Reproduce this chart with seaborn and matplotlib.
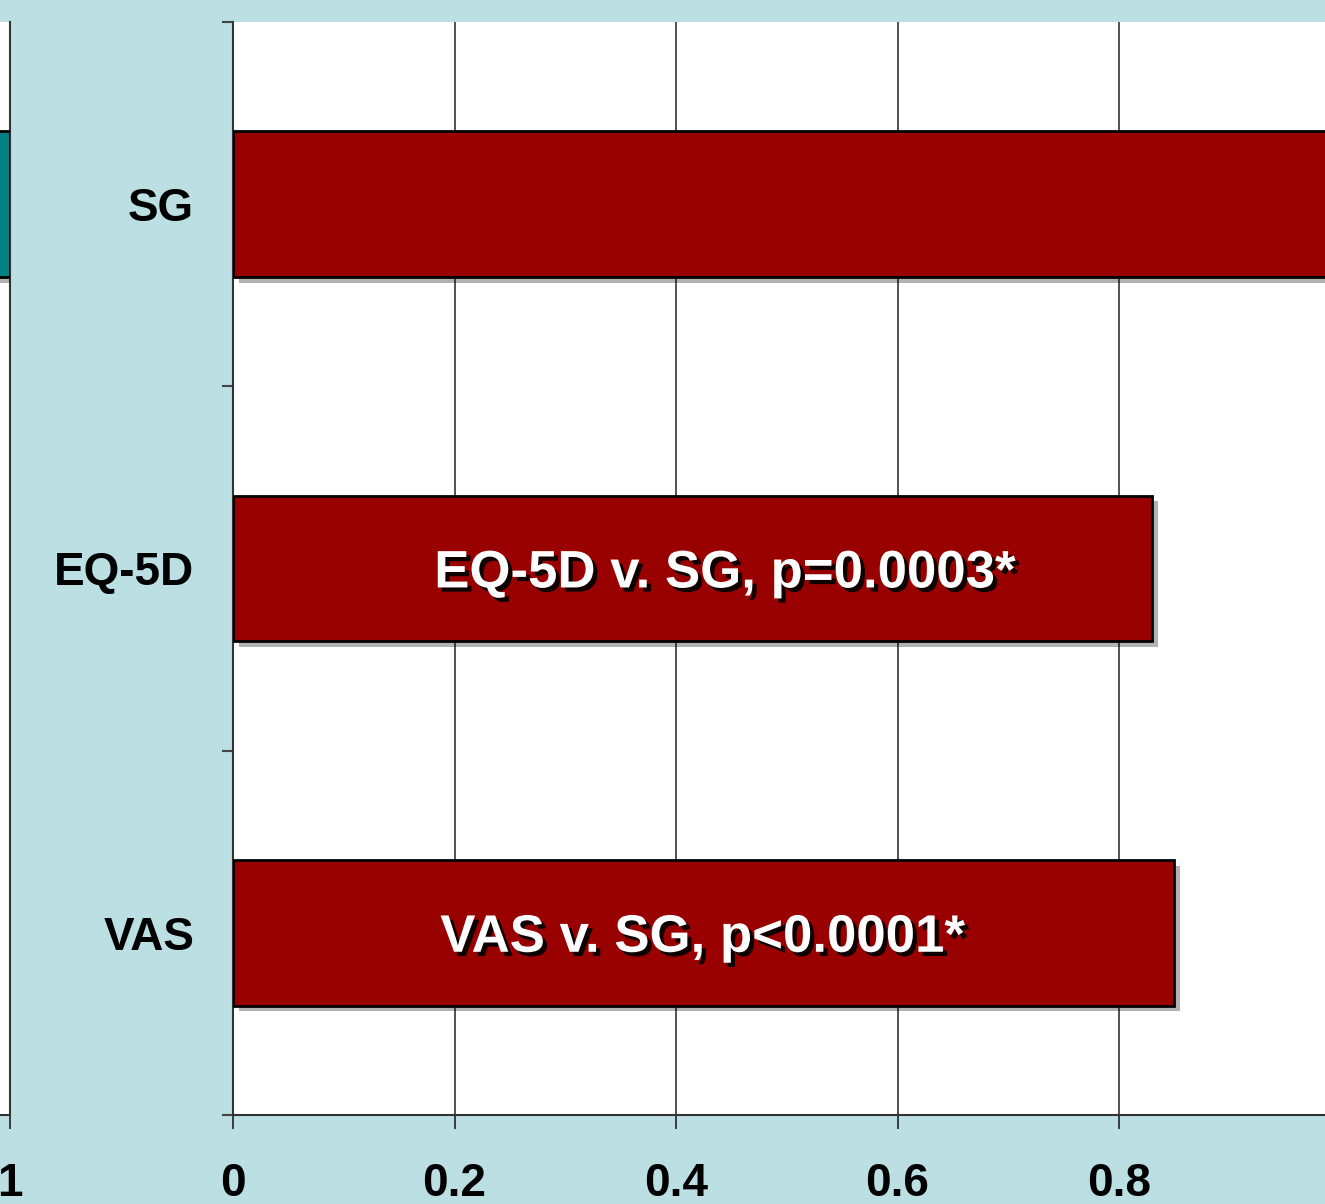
import numpy as np
import matplotlib
matplotlib.use("Agg")
import matplotlib.pyplot as plt
import matplotlib.patheffects as pe
import pandas as pd
import seaborn as sns

# values
methods = ["SG", "EQ-5D", "VAS"]
scores = [1.0, 0.83, 0.85]
notes = ["", "EQ-5D v. SG, p=0.0003*", "VAS v. SG, p<0.0001*"]
note_x = [None, 0.444, 0.424]
xticks = [0, 0.2, 0.4, 0.6, 0.8]
left_methods = ["SG", "EQ-5D", "VAS"]
left_scores = [1.0, 0.0, 0.0]

bg = "#BBDFE2"
bar_red = "#990000"
teal = "#008080"

sns.set_style("white")
plt.rcParams["font.family"] = ["Liberation Sans", "DejaVu Sans"]
plt.rcParams["font.weight"] = "bold"

W, H = 1325, 1204
fig = plt.figure(figsize=(W / 100, H / 100), dpi=100, facecolor=bg)

bar_shadow = [pe.withSimplePatchShadow(offset=(4, -4), shadow_rgbFace="k", alpha=0.3)]

# main panel
ax = fig.add_axes([233 / W, (H - 1115) / H, 1 - 233 / W, (1115 - 22) / H])
df = pd.DataFrame({"method": methods, "score": scores})
sns.barplot(data=df, y="method", x="score", color=bar_red, width=0.4,
            edgecolor="black", linewidth=2, saturation=1, ax=ax, zorder=3)
for p in ax.patches:
    p.set_path_effects(bar_shadow)

ax.set_xlim(0, (1325 - 233) / (1119 - 233) * 0.8)
ax.set_ylim(2.5, -0.5)
ax.set_xticks(xticks)
ax.set_xticklabels([f"{t:g}" for t in xticks], fontsize=33, fontweight="bold", color="black")
ax.set_yticks(range(len(methods)))
ax.set_yticklabels(methods, fontsize=33, fontweight="bold", color="black")
ax.set_yticks(np.arange(-0.5, len(methods)), minor=True)
ax.tick_params(axis="y", which="major", left=True, length=0, pad=28)
ax.tick_params(axis="y", which="minor", left=True, length=8, width=1.5, color="#444444")
ax.tick_params(axis="x", which="major", bottom=True, length=10, width=1.2, color="#222222", pad=24)
ax.set_xlabel("")
ax.set_ylabel("")
ax.grid(axis="x", color="#333333", linewidth=1.2, zorder=0)
ax.set_axisbelow(True)
ax.set_facecolor("white")
for side in ["top", "right"]:
    ax.spines[side].set_visible(False)
for side in ["left", "bottom"]:
    ax.spines[side].set_color("#333333")
    ax.spines[side].set_linewidth(1.5)

for i, (x, note) in enumerate(zip(note_x, notes)):
    if note:
        ax.text(x, i + 0.052, note, ha="center", va="baseline", color="white",
                fontsize=38, fontweight="bold", zorder=5,
                path_effects=[pe.withSimplePatchShadow(offset=(3, -3), shadow_rgbFace="k", alpha=0.9)])

# right edge of the neighbouring panel
ax2 = fig.add_axes([-200 / W, (H - 1115) / H, 210 / W, (1115 - 22) / H])
df2 = pd.DataFrame({"method": left_methods, "score": left_scores})
sns.barplot(data=df2, y="method", x="score", color=teal, width=0.4,
            edgecolor="black", linewidth=2, saturation=1, ax=ax2, zorder=3)
for p in ax2.patches:
    p.set_path_effects(bar_shadow)
ax2.set_xlim(0.8, 1.0)
ax2.set_ylim(2.5, -0.5)
ax2.set_xticks([1.0])
ax2.set_xticklabels(["1"], fontsize=33, fontweight="bold", color="black")
ax2.set_yticks([])
ax2.tick_params(axis="x", bottom=True, length=10, width=1.2, color="#222222", pad=24)
ax2.set_xlabel("")
ax2.set_ylabel("")
ax2.set_facecolor("white")
for side in ["top", "left"]:
    ax2.spines[side].set_visible(False)
for side in ["right", "bottom"]:
    ax2.spines[side].set_color("#333333")
    ax2.spines[side].set_linewidth(1.5)

fig.savefig("out.png", dpi=100, facecolor=bg)
